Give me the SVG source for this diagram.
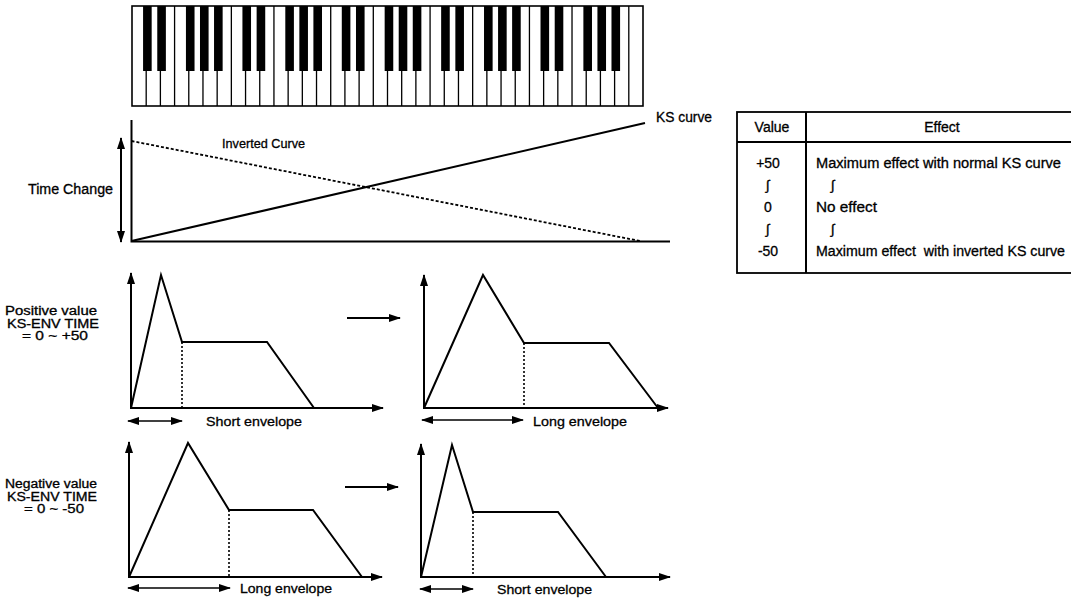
<svg xmlns="http://www.w3.org/2000/svg" xmlns:xlink="http://www.w3.org/1999/xlink" width="1071" height="599" viewBox="0 0 1071 599">
<style>
  .ln{fill:none;stroke:#000;stroke-width:2}
  .thin{fill:none;stroke:#000;stroke-width:1.3}
  .dot{fill:none;stroke:#000;stroke-width:1.6;stroke-dasharray:2 2}
  .dash{fill:none;stroke:#000;stroke-width:1.8;stroke-dasharray:3 2}
  .ax{fill:none;stroke:#000;stroke-width:2;marker-start:url(#ah);marker-end:url(#ah)}
  .arr{fill:none;stroke:#000;stroke-width:2;marker-end:url(#ah)}
  .dbl{fill:none;stroke:#000;stroke-width:1.6;marker-start:url(#ah);marker-end:url(#ah)}
  text{font-family:"Liberation Sans",Arial,sans-serif;font-size:13.5px;fill:#000;stroke:#000;stroke-width:0.3}
  .tb{font-size:14px}
  .lab{font-size:12px}
  .mid{text-anchor:middle}
  .pre{white-space:pre}
</style>
<defs>
  <marker id="ah" markerUnits="userSpaceOnUse" markerWidth="12" markerHeight="8" refX="11" refY="4" orient="auto-start-reverse">
    <path d="M0,0 L12,4 L0,8 z" fill="#000"/>
  </marker>
  <g id="octave">
    <path class="thin" d="M14.19,0V100M28.39,0V100M42.58,0V100M56.78,0V100M70.97,0V100M85.16,0V100M99.36,0V100"/>
    <rect x="11.07" y="0" width="8.6" height="65" fill="#000"/>
    <rect x="25.27" y="0" width="8.6" height="65" fill="#000"/>
    <rect x="53.94" y="0" width="8.6" height="65" fill="#000"/>
    <rect x="67.99" y="0" width="8.6" height="65" fill="#000"/>
    <rect x="82.04" y="0" width="8.6" height="65" fill="#000"/>
  </g>
</defs>
<rect width="1071" height="599" fill="#fff"/>

<g id="keyboard">
  <rect x="132" y="6" width="511" height="100" fill="#fff" stroke="#000" stroke-width="1.6"/>
  <use xlink:href="#octave" transform="translate(132,6)"/>
  <use xlink:href="#octave" transform="translate(231.36,6)"/>
  <use xlink:href="#octave" transform="translate(330.72,6)"/>
  <use xlink:href="#octave" transform="translate(430.08,6)"/>
  <use xlink:href="#octave" transform="translate(529.44,6)"/>
</g>

<g id="ks-graph">
  <path class="ln" d="M131.5,120 V241.5 H670"/>
  <path class="ln" d="M131.5,241 L645,123"/>
  <path class="dash" d="M131.5,141 L640,241"/>
  <path class="ax" d="M121,138 V242"/>
  <text x="28" y="194" style="font-size:14px" textLength="85" lengthAdjust="spacingAndGlyphs">Time Change</text>
  <text x="222" y="148" style="font-size:13px" textLength="83" lengthAdjust="spacingAndGlyphs">Inverted Curve</text>
  <text x="656" y="122" style="font-size:14px" textLength="56" lengthAdjust="spacingAndGlyphs">KS curve</text>
</g>

<g id="table">
  <rect x="737" y="112" width="340" height="161" fill="none" stroke="#000" stroke-width="1.8"/>
  <path class="ln" d="M737,142 H1071 M806,112 V273"/>
  <text class="tb mid" x="772" y="132">Value</text>
  <text class="tb mid" x="942" y="132">Effect</text>
  <text class="tb mid" x="768" y="168">+50</text>
  <text class="tb mid" x="768" y="190">∫</text>
  <text class="tb mid" x="768" y="212">0</text>
  <text class="tb mid" x="768" y="234">∫</text>
  <text class="tb mid" x="768" y="256">-50</text>
  <text class="tb" x="816" y="168" textLength="245" lengthAdjust="spacingAndGlyphs">Maximum effect with normal KS curve</text>
  <text class="tb mid" x="833" y="190">∫</text>
  <text class="tb" x="816" y="212" textLength="61" lengthAdjust="spacingAndGlyphs">No effect</text>
  <text class="tb mid" x="833" y="234">∫</text>
  <text class="tb pre" x="816" y="256" textLength="249" lengthAdjust="spacingAndGlyphs">Maximum effect  with inverted KS curve</text>
</g>

<g id="label-positive">
  <text class="lab" x="5" y="315" textLength="92" lengthAdjust="spacingAndGlyphs">Positive value</text>
  <text class="lab" x="7" y="327.5" textLength="92" lengthAdjust="spacingAndGlyphs">KS-ENV TIME</text>
  <text class="lab" x="22" y="340" textLength="66" lengthAdjust="spacingAndGlyphs">= 0 ~ +50</text>
</g>
<g id="label-negative">
  <text class="lab" x="5" y="488" textLength="92" lengthAdjust="spacingAndGlyphs">Negative value</text>
  <text class="lab" x="7" y="500.5" textLength="90" lengthAdjust="spacingAndGlyphs">KS-ENV TIME</text>
  <text class="lab" x="24" y="513" textLength="60" lengthAdjust="spacingAndGlyphs">= 0 ~ -50</text>
</g>

<g id="env-1">
  <path class="ax" d="M131,273 V408 H383"/>
  <polyline class="ln" points="131,408 161,275 182,342 267,342 314,408"/>
  <path class="dot" d="M182,342 V408"/>
  <path class="dbl" d="M128,421 H182"/>
  <text x="206" y="426" textLength="96" lengthAdjust="spacingAndGlyphs">Short envelope</text>
</g>
<g id="env-2">
  <path class="ax" d="M424,275 V408 H668"/>
  <polyline class="ln" points="424,408 483,275 524,343 609,343 658,408"/>
  <path class="dot" d="M524,343 V408"/>
  <path class="dbl" d="M422,420 H523"/>
  <text x="533" y="426" textLength="94" lengthAdjust="spacingAndGlyphs">Long envelope</text>
</g>
<g id="env-3">
  <path class="ax" d="M129,442 V577 H382"/>
  <polyline class="ln" points="129,577 188,443 229,510 313,510 362,577"/>
  <path class="dot" d="M229,510 V577"/>
  <path class="dbl" d="M128,588 H230"/>
  <text x="240" y="593" textLength="92" lengthAdjust="spacingAndGlyphs">Long envelope</text>
</g>
<g id="env-4">
  <path class="ax" d="M421,444 V577 H670"/>
  <polyline class="ln" points="421,577 452,445 473,512 558,512 606,577"/>
  <path class="dot" d="M473,512 V577"/>
  <path class="dbl" d="M420,589 H473"/>
  <text x="497" y="594" textLength="95" lengthAdjust="spacingAndGlyphs">Short envelope</text>
</g>

<g id="connectors">
  <path class="arr" d="M347,318 H400"/>
  <path class="arr" d="M345,487 H398"/>
</g>
</svg>
